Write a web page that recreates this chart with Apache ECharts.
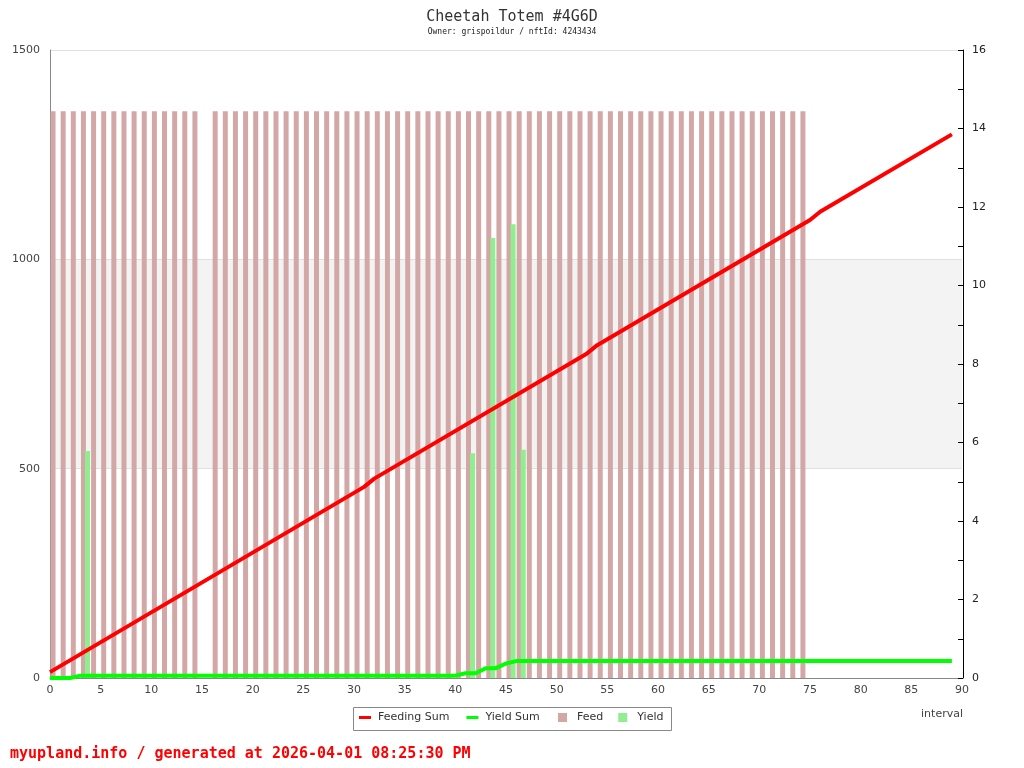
<!DOCTYPE html>
<html><head><meta charset="utf-8">
<script src="https://cdn.jsdelivr.net/npm/echarts@6/dist/echarts.min.js"></script>
<style>html,body{margin:0;padding:0;background:#fff}#c{width:1024px;height:768px}</style>
</head><body><div id="c"></div>
<script>
const titleText = 'Cheetah Totem #4G6D';
const subtitleText = 'Owner: grispoildur / nftId: 4243434';
const footerText = 'myupland.info / generated at 2026-04-01 08:25:30 PM';
const xAxisName = 'interval';
const seriesNames = ['Feeding Sum', 'Yield Sum', 'Feed', 'Yield'];

const feedIntervals = [0,1,2,3,4,5,6,7,8,9,10,11,12,13,14,16,17,18,19,20,21,22,23,24,25,26,27,28,29,30,31,32,33,34,35,36,37,38,39,40,41,42,43,44,45,46,47,48,49,50,51,52,53,54,55,56,57,58,59,60,61,62,63,64,65,66,67,68,69,70,71,72,73,74];
const feedValues = [1354,1354,1354,1354,1354,1354,1354,1354,1354,1354,1354,1354,1354,1354,1354,1354,1354,1354,1354,1354,1354,1354,1354,1354,1354,1354,1354,1354,1354,1354,1354,1354,1354,1354,1354,1354,1354,1354,1354,1354,1354,1354,1354,1354,1354,1354,1354,1354,1354,1354,1354,1354,1354,1354,1354,1354,1354,1354,1354,1354,1354,1354,1354,1354,1354,1354,1354,1354,1354,1354,1354,1354,1354,1354];

const yieldIntervals = [3, 41, 43, 45, 46];
const yieldValues = [542, 537, 1051, 1084, 545];

const feedingSumIntervals = [0, 31, 32, 53, 54, 75, 76, 89];
const feedingSumValues = [0.15, 4.87, 5.08, 8.27, 8.48, 11.67, 11.88, 13.85];

const yieldSumIntervals = [0, 2, 3, 40, 41, 42, 43, 44, 45, 46, 89];
const yieldSumValues = [0, 0, 0.06, 0.06, 0.12, 0.12, 0.25, 0.25, 0.37, 0.43, 0.43];

const FEED_OFF = 0.3, YIELD_OFF = 0.7;
const pair = (xs, ys, off) => xs.map((x, k) => [x + off, ys[k]]);

const chart = echarts.init(document.getElementById('c'), null, {renderer: 'canvas'});
const mono = 'DejaVu Sans Mono';
const sans = 'DejaVu Sans';
const legendText = {fontFamily: sans, fontSize: 11, color: '#333'};
chart.setOption({
  animation: false,
  backgroundColor: '#ffffff',
  title: {
    text: titleText, subtext: subtitleText, left: 'center', top: 5, itemGap: 3,
    textStyle: {fontFamily: mono, fontSize: 15, fontWeight: 'normal', color: '#333'},
    subtextStyle: {fontFamily: mono, fontSize: 8, color: '#222'}
  },
  grid: {left: 50, right: 62, top: 50, bottom: 90, containLabel: false},
  legend: [
    {
      left: 359, top: 712, orient: 'horizontal', padding: 0,
      itemGap: 17, itemWidth: 12, itemHeight: 3,
      textStyle: Object.assign({padding: [0, 0, 0, 2]}, legendText),
      data: [
        {name: seriesNames[0], icon: 'rect'},
        {name: seriesNames[1], icon: 'rect'}
      ]
    },
    {
      left: 558, top: 712, orient: 'horizontal', padding: 0,
      itemGap: 15, itemWidth: 9, itemHeight: 9,
      textStyle: Object.assign({padding: [0, 0, 0, 5]}, legendText),
      data: [
        {name: seriesNames[2], icon: 'rect'},
        {name: seriesNames[3], icon: 'rect'}
      ]
    }
  ],
  xAxis: {
    type: 'value', min: 0, max: 90, interval: 5,
    axisLine: {show: true, onZero: false, lineStyle: {color: '#888', width: 1}},
    axisTick: {show: false},
    splitLine: {show: false},
    axisLabel: {fontFamily: sans, fontSize: 11, color: '#444', margin: 7}
  },
  yAxis: [
    {
      type: 'value', min: 0, max: 1500, interval: 500, position: 'left',
      axisLine: {show: true, lineStyle: {color: '#888', width: 1}},
      axisTick: {show: false},
      axisLabel: {fontFamily: sans, fontSize: 11, color: '#444', margin: 10,
        formatter: v => String(v)},
      splitLine: {show: true, lineStyle: {color: '#e0e0e0', width: 1}},
      splitArea: {show: true, areaStyle: {color: ['rgba(255,255,255,0)', '#f3f3f3']}}
    },
    {
      type: 'value', min: 0, max: 16, interval: 1, position: 'right', offset: 1,
      axisLine: {show: true, lineStyle: {color: '#000', width: 1}},
      axisTick: {show: true, inside: true, length: 5, lineStyle: {color: '#000'}},
      axisLabel: {fontFamily: sans, fontSize: 11, color: '#222', margin: 9,
        formatter: v => (v % 2 === 0 ? String(v) : '')},
      splitLine: {show: false}
    }
  ],
  series: [
    {
      name: seriesNames[2], type: 'bar', xAxisIndex: 0, yAxisIndex: 0,
      barWidth: 5, barGap: '-100%', color: '#d4a7a7',
      itemStyle: {color: '#d4a7a7'},
      data: pair(feedIntervals, feedValues, FEED_OFF)
    },
    {
      name: seriesNames[3], type: 'bar', xAxisIndex: 0, yAxisIndex: 0,
      barWidth: 5, barGap: '-100%', color: '#90ee90',
      itemStyle: {color: '#90ee90'},
      data: pair(yieldIntervals, yieldValues, YIELD_OFF)
    },
    {
      name: seriesNames[0], type: 'line', xAxisIndex: 0, yAxisIndex: 1,
      showSymbol: false, symbol: 'none', color: '#ff0000',
      lineStyle: {color: '#ff0000', width: 4},
      data: pair(feedingSumIntervals, feedingSumValues, 0)
    },
    {
      name: seriesNames[1], type: 'line', xAxisIndex: 0, yAxisIndex: 1,
      showSymbol: false, symbol: 'none', color: '#00ff00',
      lineStyle: {color: '#00ff00', width: 4},
      data: pair(yieldSumIntervals, yieldSumValues, 0)
    }
  ],
  graphic: [
    {type: 'rect', left: 353, top: 707, z: -1,
     shape: {width: 318, height: 23},
     style: {fill: '#fff', stroke: '#888', lineWidth: 1}},
    {type: 'text', right: 61, top: 709,
     style: {text: xAxisName, fontFamily: sans, fontSize: 11, fill: '#444'}},
    {type: 'text', left: 10, top: 747,
     style: {text: footerText, fontFamily: mono, fontSize: 15, fontWeight: 'bold', fill: '#ff0000'}}
  ]
});
</script></body></html>
